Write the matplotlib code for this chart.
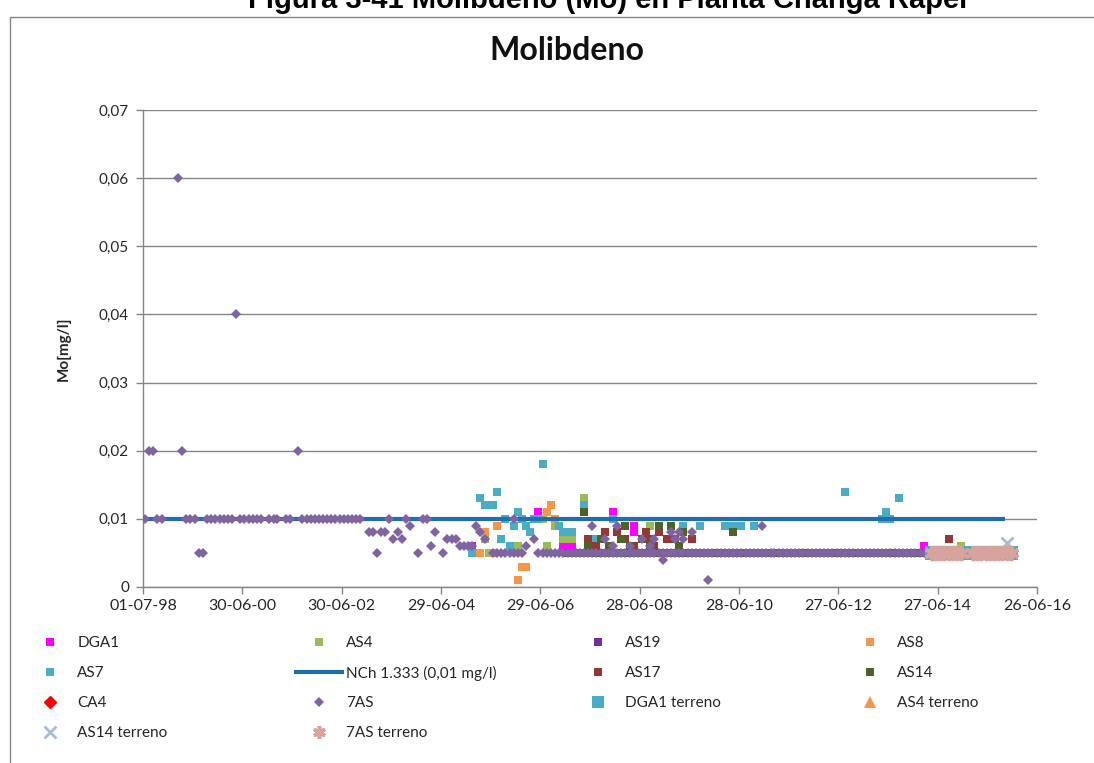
import matplotlib
matplotlib.use("Agg")
import matplotlib.pyplot as plt
import matplotlib.dates as mdates
from matplotlib.lines import Line2D
from matplotlib.patches import Rectangle
from matplotlib.ticker import FixedLocator, FuncFormatter
import pandas as pd

plt.rcParams['font.family'] = ['Lato', 'DejaVu Sans']

# ---------------------------------------------------------------- data
titulo_figura = "Figura 3-41 Molibdeno (Mo) en Planta Changa Rapel"
titulo = "Molibdeno"
eje_y = "Mo[mg/l]"
norma_valor = 0.01
norma_fechas = ["1998-07-01", "2015-11-01"]

# 7AS (monthly samples, YYYY-MM)
as7a_meses = [
    "1998-07", "1998-08", "1998-09", "1998-10", "1998-11",
    "1999-03", "1999-04", "1999-05", "1999-06", "1999-07", "1999-08", "1999-09",
    "1999-10", "1999-11", "1999-12", "2000-01", "2000-02", "2000-03", "2000-04",
    "2000-05", "2000-06", "2000-07", "2000-08", "2000-09", "2000-10", "2000-11",
    "2001-01", "2001-02", "2001-03", "2001-05", "2001-06", "2001-08",
    "2001-09", "2001-10", "2001-11", "2001-12", "2002-01", "2002-02", "2002-03",
    "2002-04", "2002-05", "2002-06", "2002-07", "2002-08", "2002-09", "2002-10",
    "2002-11",
    "2003-01", "2003-02", "2003-03", "2003-04", "2003-05", "2003-06", "2003-07",
    "2003-08", "2003-09", "2003-10", "2003-11",
    "2004-01", "2004-02", "2004-03", "2004-04", "2004-05", "2004-07", "2004-08",
    "2004-09", "2004-10", "2004-11", "2004-12",
    "2005-01", "2005-02", "2005-03", "2005-04", "2005-05",
    "2005-12", "2006-03", "2006-05", "2007-07", "2007-10", "2007-12", "2008-01",
    "2008-04", "2008-07", "2008-09", "2008-10", "2008-12", "2009-02", "2009-03",
    "2009-04", "2009-05", "2009-07", "2009-11", "2010-12",
]
as7a_mo = [
    0.01, 0.02, 0.02, 0.01, 0.01,
    0.06, 0.02, 0.01, 0.01, 0.01, 0.005, 0.005,
    0.01, 0.01, 0.01, 0.01, 0.01, 0.01, 0.01,
    0.04, 0.01, 0.01, 0.01, 0.01, 0.01, 0.01,
    0.01, 0.01, 0.01, 0.01, 0.01, 0.02,
    0.01, 0.01, 0.01, 0.01, 0.01, 0.01, 0.01,
    0.01, 0.01, 0.01, 0.01, 0.01, 0.01, 0.01,
    0.01,
    0.008, 0.008, 0.005, 0.008, 0.008, 0.01, 0.007,
    0.008, 0.007, 0.01, 0.009,
    0.005, 0.01, 0.01, 0.006, 0.008, 0.005, 0.007,
    0.007, 0.007, 0.006, 0.006,
    0.006, 0.006, 0.009, 0.008, 0.007,
    0.01, 0.006, 0.007, 0.009, 0.007, 0.006, 0.009,
    0.006, 0.007, 0.006, 0.007, 0.004, 0.008, 0.007,
    0.008, 0.007, 0.008, 0.001, 0.009,
]
# months where 7AS sits at the 0.005 detection limit
fila_meses = [
    "2005-07", "2005-08", "2005-09", "2005-10", "2005-11", "2005-12",
    "2006-01", "2006-02", "2006-06", "2006-07", "2006-08", "2006-09", "2006-10",
    "2006-11", "2006-12",
    "2007-01", "2007-02", "2007-03", "2007-04", "2007-05", "2007-06",
    "2007-07", "2007-08", "2007-09", "2007-10", "2007-11", "2007-12",
    "2008-01", "2008-02", "2008-03", "2008-04", "2008-05", "2008-06",
    "2008-07", "2008-08", "2008-09", "2008-10", "2008-11", "2008-12",
    "2009-01", "2009-02", "2009-03", "2009-04", "2009-05", "2009-06",
    "2009-07", "2009-08", "2009-09", "2009-10", "2009-11", "2009-12",
    "2010-01", "2010-02", "2010-03", "2010-04", "2010-05", "2010-06",
    "2010-07", "2010-08", "2010-09", "2010-10", "2010-11", "2010-12",
    "2011-01", "2011-02", "2011-03", "2011-04", "2011-05", "2011-06",
    "2011-07", "2011-08", "2011-09", "2011-10", "2011-11", "2011-12",
    "2012-01", "2012-02", "2012-03", "2012-04", "2012-05", "2012-06",
    "2012-07", "2012-08", "2012-09", "2012-10", "2012-11", "2012-12",
    "2013-01", "2013-02", "2013-03", "2013-04", "2013-05", "2013-06",
    "2013-07", "2013-08", "2013-09", "2013-10", "2013-11", "2013-12",
    "2014-01", "2014-02", "2014-03",
]
limite_deteccion = 0.005

dga1_meses = ["2005-02", "2006-06", "2006-12", "2007-01", "2007-02", "2007-06",
              "2007-12", "2008-05", "2008-05", "2014-03"]
dga1_mo = [0.006, 0.011, 0.006, 0.006, 0.006, 0.007, 0.011, 0.009, 0.008, 0.006]

as4_meses = ["2005-04", "2005-05", "2005-06", "2005-12", "2006-01", "2006-07",
             "2006-08", "2006-10", "2006-12", "2007-01", "2007-02", "2007-05",
             "2008-09", "2008-11", "2014-12"]
as4_mo = [0.005, 0.007, 0.005, 0.006, 0.006, 0.010, 0.006, 0.009, 0.007,
          0.007, 0.007, 0.013, 0.009, 0.009, 0.006]

as19_meses = ["2007-03", "2007-09", "2008-06", "2008-10", "2009-01"]
as19_mo = [0.005, 0.005, 0.005, 0.006, 0.005]

as8_meses = ["2005-03", "2005-04", "2005-05", "2005-07", "2005-08", "2006-01",
             "2006-02", "2006-03", "2006-08", "2006-09", "2006-10"]
as8_mo = [0.005, 0.005, 0.008, 0.005, 0.009, 0.001, 0.003, 0.003, 0.011,
          0.012, 0.010]

as7_meses = ["2005-02", "2005-04", "2005-05", "2005-06", "2005-07", "2005-08",
             "2005-09", "2005-10", "2005-11", "2005-12", "2006-01", "2006-02",
             "2006-03", "2006-04", "2006-05", "2006-06", "2006-07", "2006-11",
             "2006-12", "2007-01", "2007-02", "2007-05", "2007-08", "2007-10",
             "2007-12", "2007-12", "2009-05", "2009-09", "2010-03", "2010-05",
             "2010-07", "2010-10", "2012-08", "2013-05", "2013-06", "2013-06",
             "2013-07", "2013-09"]
as7_mo = [0.005, 0.013, 0.012, 0.012, 0.012, 0.014,
          0.007, 0.010, 0.006, 0.009, 0.011, 0.010,
          0.009, 0.008, 0.010, 0.010, 0.018, 0.009,
          0.008, 0.008, 0.008, 0.012, 0.007, 0.005,
          0.010, 0.005, 0.009, 0.009, 0.009, 0.009,
          0.009, 0.009, 0.014, 0.010, 0.011, 0.010,
          0.010, 0.013]

as17_meses = ["2007-06", "2007-07", "2007-08", "2007-10", "2007-11", "2008-01",
              "2008-02", "2008-03", "2008-05", "2008-06", "2008-08", "2008-09",
              "2008-10", "2008-11", "2008-12", "2009-01", "2009-03", "2009-04",
              "2009-07", "2014-09"]
as17_mo = [0.007, 0.005, 0.006, 0.008, 0.005, 0.008,
           0.005, 0.007, 0.006, 0.005, 0.008, 0.007,
           0.006, 0.008, 0.005, 0.007, 0.007, 0.005,
           0.007, 0.007]

as14_meses = ["2007-05", "2007-06", "2007-09", "2007-11", "2008-02", "2008-03",
              "2008-04", "2008-07", "2008-09", "2008-11", "2009-02", "2009-04",
              "2009-05", "2010-05"]
as14_mo = [0.011, 0.006, 0.007, 0.006, 0.007, 0.009,
           0.006, 0.007, 0.006, 0.009, 0.009, 0.006,
           0.008, 0.008]

ca4_meses = []
ca4_mo = []

terreno_meses = ["2014-05", "2014-06", "2014-07", "2014-08", "2014-09", "2014-10",
                 "2014-11", "2014-12", "2015-03", "2015-04", "2015-05", "2015-06",
                 "2015-07", "2015-08", "2015-09", "2015-10", "2015-11", "2015-12"]
dga1_terreno_mo = [0.005] * 18
as7s_terreno_mo = [0.005] * 18
as4_terreno_meses = ["2014-07", "2015-06", "2015-11"]
as4_terreno_mo = [0.005, 0.005, 0.0052]
as14_terreno_meses = ["2014-06", "2015-05", "2015-11"]
as14_terreno_mo = [0.005, 0.005, 0.0064]

x_inicio = "1998-07-01"
x_fin = "2016-06-26"
y_ticks = [0, 0.01, 0.02, 0.03, 0.04, 0.05, 0.06, 0.07]


def fechas(meses):
    return pd.to_datetime([m + "-15" for m in meses])


# ---------------------------------------------------------------- figure
W, H = 1094, 763
fig = plt.figure(figsize=(W / 100, H / 100), dpi=100)
fig.patch.set_facecolor("white")

ax = fig.add_axes([143 / W, (H - 587) / H, (1037 - 143) / W, (587 - 110) / H])

gris = "#868686"
sq = dict(marker="s", linestyle="none", markersize=5.6, markeredgewidth=0)

series = []
series.append(ax.plot(fechas(dga1_meses), dga1_mo, color="#FF00FF", label="DGA1", zorder=3, **sq)[0])
series.append(ax.plot(fechas(as4_meses), as4_mo, color="#9BBB59", label="AS4", zorder=3.1, **sq)[0])
series.append(ax.plot(fechas(as19_meses), as19_mo, color="#7030A0", label="AS19", zorder=3.2, **sq)[0])
series.append(ax.plot(fechas(as8_meses), as8_mo, color="#F79646", label="AS8", zorder=3.3, **sq)[0])
series.append(ax.plot(fechas(as7_meses), as7_mo, color="#4BACC6", label="AS7", zorder=3.4, **sq)[0])
series.append(ax.plot(pd.to_datetime(norma_fechas), [norma_valor] * 2, color="#1F6EB4",
                      lw=3, solid_capstyle="butt", label="NCh 1.333 (0,01 mg/l)", zorder=3.5)[0])
series.append(ax.plot(fechas(as17_meses), as17_mo, color="#953735", label="AS17", zorder=3.6, **sq)[0])
# detection-limit row for AS14 from 2007 on
as14_x = list(fechas(fila_meses[15:])) + list(fechas(as14_meses))
as14_y = [limite_deteccion] * len(fila_meses[15:]) + as14_mo
series.append(ax.plot(as14_x, as14_y, color="#4F6228", label="AS14", zorder=3.7, **sq)[0])
series.append(ax.plot(fechas(ca4_meses), ca4_mo, color="#FF0000", marker="D", linestyle="none",
                      markersize=6, label="CA4", zorder=3.8)[0])
as7s_x = list(fechas(as7a_meses)) + list(fechas(fila_meses))
as7s_y = as7a_mo + [limite_deteccion] * len(fila_meses)
series.append(ax.plot(as7s_x, as7s_y, color="#8064A2", marker="D", linestyle="none",
                      markersize=5.0, markeredgewidth=0, label="7AS", zorder=3.9)[0])
series.append(ax.plot(fechas(terreno_meses), dga1_terreno_mo, color="#4BACC6", marker="s",
                      linestyle="none", markersize=10.5, markeredgewidth=0,
                      label="DGA1 terreno", zorder=4.0)[0])
series.append(ax.plot(fechas(as4_terreno_meses), as4_terreno_mo, color="#F79646", marker="^",
                      linestyle="none", markersize=8, markeredgewidth=0,
                      label="AS4 terreno", zorder=4.1)[0])
series.append(ax.plot(fechas(as14_terreno_meses), as14_terreno_mo, color="#A9BCD8", marker="x",
                      linestyle="none", markersize=8, markeredgewidth=2,
                      label="AS14 terreno", zorder=4.2)[0])
series.append(ax.plot(fechas(terreno_meses), as7s_terreno_mo, color="#D9A39D", marker=(6, 2, 0),
                      linestyle="none", markersize=11, markeredgewidth=2.6,
                      label="7AS terreno", zorder=4.3)[0])

# axes styling
ax.set_xlim(pd.Timestamp(x_inicio), pd.Timestamp(x_fin))
ax.set_ylim(0, 0.07)
x_ticks = pd.date_range(x_inicio, x_fin, freq="730D")
ax.xaxis.set_major_locator(FixedLocator(mdates.date2num(x_ticks)))
ax.xaxis.set_major_formatter(mdates.DateFormatter("%d-%m-%y"))
ax.yaxis.set_major_locator(FixedLocator(y_ticks))
ax.yaxis.set_major_formatter(FuncFormatter(
    lambda v, p: "0" if abs(v) < 1e-12 else f"{v:.2f}".replace(".", ",")))
ax.grid(axis="y", color=gris, lw=1)
ax.set_axisbelow(True)
for s in ("top", "right"):
    ax.spines[s].set_visible(False)
for s in ("left", "bottom"):
    ax.spines[s].set_color(gris)
    ax.spines[s].set_linewidth(1)
ax.tick_params(axis="both", colors=gris, length=5, width=1, labelcolor="#262626",
               labelsize=11)
ax.tick_params(axis="x", labelsize=11.5, pad=4)
ax.tick_params(axis="y", pad=5)
ax.set_ylabel(eje_y, fontsize=11, fontweight="bold", color="#262626", labelpad=20)

fig.text(567 / W, 1 - 50 / H, titulo, ha="center", va="center", fontsize=23,
         fontweight="bold", color="#111111")
# report caption above the chart area, trimmed by the page edge
fig.text(608 / W, 1 - 8 / H, titulo_figura, ha="center", va="baseline", fontsize=21,
         fontweight="bold", family=["Liberation Sans", "DejaVu Sans"], color="black")

# chart-area border
fig.add_artist(Rectangle((10 / W, -0.05), 1.2, (1 - 17 / H) + 0.05, transform=fig.transFigure,
                         fill=False, ec=gris, lw=1))

# legend: four columns laid out row by row
orden = [["DGA1", "AS4", "AS19", "AS8"],
         ["AS7", "NCh 1.333 (0,01 mg/l)", "AS17", "AS14"],
         ["CA4", "7AS", "DGA1 terreno", "AS4 terreno"],
         ["AS14 terreno", "7AS terreno"]]
por_nombre = {h.get_label(): h for h in series}
col_x = [27, 296, 575, 847]
fila_y = [643, 673, 703, 733]
for r, fila in enumerate(orden):
    for c, nombre in enumerate(fila):
        h = por_nombre[nombre]
        proxy = Line2D([], [], color=h.get_color(), marker=h.get_marker(),
                       linestyle=h.get_linestyle(), lw=h.get_linewidth(),
                       markersize=min(h.get_markersize(), 9), markeredgewidth=h.get_markeredgewidth())
        fig.legend(handles=[proxy], labels=[nombre], loc="center left",
                   bbox_to_anchor=(col_x[c] / W, 1 - fila_y[r] / H), frameon=False,
                   borderpad=0, borderaxespad=0, handlelength=3.0, handletextpad=0.3,
                   fontsize=11, labelcolor="#262626")

fig.savefig("out.png", dpi=100)
